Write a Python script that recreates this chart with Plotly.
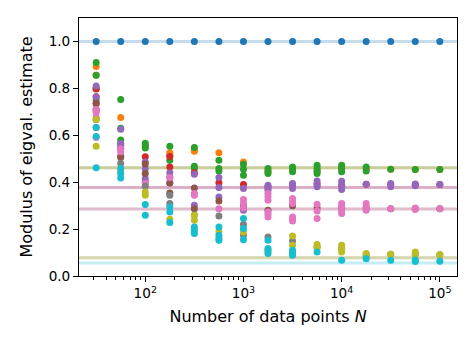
import plotly.graph_objects as go

# data points N (log-spaced sample sizes)
N = [31.6, 56.2, 100, 177.8, 316.2, 562.3, 1000, 1778, 3162, 5623,
     10000, 17783, 31623, 56234, 100000]

# true moduli of the eigenvalues (one per colour index)
true_mod = [1.0, 0.462, 0.462, 0.377, 0.377, 0.286, 0.286, 0.078, 0.078, 0.055]

# estimated moduli per N, one list per eigenvalue index (several trials each)
est0 = [[1.0]] * 15
est1 = [[0.893, 0.856, 0.80], [0.676], [0.55], [0.515, 0.525], [0.536, 0.532],
        [0.525], [0.486], [0.45], [0.455], [0.45], [0.458], [0.455], [0.455], [0.454], [0.454]]
est2 = [[0.91, 0.856, 0.80, 0.75], [0.753, 0.63, 0.58, 0.565], [0.566, 0.557, 0.546],
        [0.553, 0.494], [0.548, 0.468, 0.458], [0.494, 0.458, 0.448], [0.476, 0.455, 0.43],
        [0.458, 0.445, 0.437], [0.465, 0.455, 0.444], [0.472, 0.458, 0.444, 0.437],
        [0.472, 0.458, 0.444], [0.465, 0.448], [0.455], [0.454], [0.454]]
est3 = [[0.797, 0.764, 0.735], [0.545], [0.508], [0.51, 0.465], [0.44], [0.398], [0.39],
        [0.38], [0.383], [0.392], [0.387], [0.391], [0.39], [0.39], [0.39]]
est4 = [[0.81, 0.764, 0.70], [0.626, 0.565, 0.556], [0.486, 0.456, 0.415, 0.40],
        [0.44, 0.42, 0.397], [0.434, 0.302], [0.42, 0.377, 0.337], [0.373, 0.28],
        [0.387, 0.375, 0.366], [0.394, 0.383, 0.373], [0.405, 0.392, 0.38],
        [0.404, 0.387, 0.369], [0.391], [0.394, 0.38], [0.392, 0.385], [0.39]]
est5 = [[0.735, 0.71], [0.512, 0.505], [0.477, 0.437], [0.397, 0.354], [0.375, 0.287],
        [0.32], [0.30], [0.28], [0.30], [0.29], [0.29], [0.29], [0.287], [0.287], [0.287]]
est6 = [[0.71, 0.70, 0.678, 0.59], [0.543, 0.53], [0.394], [0.42], [0.352, 0.344],
        [0.287], [0.326, 0.309, 0.29], [0.352, 0.338, 0.323, 0.273, 0.262, 0.252],
        [0.33, 0.318, 0.309, 0.252, 0.243, 0.235], [0.306, 0.277, 0.245],
        [0.309, 0.295, 0.28, 0.266], [0.309, 0.295, 0.28], [0.287], [0.29, 0.283], [0.287]]
est7 = [[0.667, 0.633], [0.48], [0.383], [0.344, 0.309], [0.26], [0.256], [0.22, 0.174],
        [0.166], [0.149], [0.125], [0.116], [0.09], [0.093], [0.095], [0.091]]
est8 = [[0.667, 0.553], [0.45], [0.358, 0.344], [0.242], [0.259, 0.238], [0.19],
        [0.188], [0.11], [0.171, 0.131], [0.134, 0.119], [0.131, 0.116, 0.102],
        [0.096, 0.081], [0.093], [0.102, 0.088], [0.091]]
est9 = [[0.633, 0.595, 0.461], [0.458, 0.437, 0.418], [0.305, 0.259],
        [0.294, 0.273, 0.228], [0.209, 0.195, 0.181], [0.209, 0.174, 0.16, 0.152],
        [0.245, 0.202, 0.155], [0.152, 0.117, 0.107, 0.096], [0.11, 0.099, 0.088],
        [0.102], [0.067], [0.074], [0.067], [0.068, 0.062], [0.063]]

estimates = [est0, est1, est2, est3, est4, est5, est6, est7, est8, est9]
colors = ['#1f77b4', '#ff7f0e', '#2ca02c', '#d62728', '#9467bd',
          '#8c564b', '#e377c2', '#7f7f7f', '#bcbd22', '#17becf']

fig = go.Figure()

for val, col in zip(true_mod, colors):
    fig.add_hline(y=val, line=dict(color=col, width=3), opacity=0.25, layer='below')

for est, col in zip(estimates, colors):
    xs, ys = [], []
    for n, vals in zip(N, est):
        for v in vals:
            xs.append(n)
            ys.append(v)
    fig.add_trace(go.Scatter(x=xs, y=ys, mode='markers',
                             marker=dict(color=col, size=7, line=dict(width=0)),
                             showlegend=False))

minor_vals = [m * 10 ** k for k in range(1, 6) for m in range(2, 10)]

axis_style = dict(showline=True, mirror=True, linecolor='black', linewidth=1,
                  ticks='outside', ticklen=5, tickwidth=1, tickcolor='black',
                  showgrid=False, zeroline=False, automargin=False)

fig.update_layout(
    width=475, height=356,
    margin=dict(l=79, r=18, t=18, b=80),
    plot_bgcolor='white', paper_bgcolor='white',
    font=dict(family='DejaVu Sans', size=13.6, color='black'),
    xaxis=dict(type='log', range=[1.325, 5.175],
               tickvals=[100, 1000, 10000, 100000],
               ticktext=['10<sup>2</sup>', '10<sup>3</sup>', '10<sup>4</sup>', '10<sup>5</sup>'],
               title=dict(text='Number of data points <i>N</i>', standoff=10),
               minor=dict(tickvals=minor_vals, ticks='outside', ticklen=3,
                          tickcolor='black', showgrid=False),
               **axis_style),
    yaxis=dict(range=[0, 1.1], tickvals=[0, 0.2, 0.4, 0.6, 0.8, 1.0], tickformat='.1f',
               title=dict(text='Modulus of eigval. estimate', standoff=12),
               **axis_style),
)

# drop the default page margin so the figure sits at the window's corner
fig.write_html("out.html", config={'displayModeBar': False},
               post_script="document.body.style.margin = '0';")
